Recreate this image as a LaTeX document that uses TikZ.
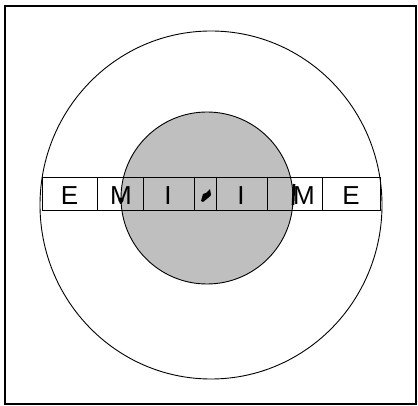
\documentclass[tikz,border=0pt]{standalone}
\usepackage{fontspec}
\setmainfont{Liberation Sans}
\usetikzlibrary{positioning}
\tikzset{
  frame/.style={draw=black,line width=1.6pt},
  ring/.style={draw=black,line width=0.9pt},
  core/.style={ring,fill=gray!50},
  strip/.style={draw=black,line width=1pt},
  cell/.style={font=\fontsize{26}{26}\selectfont,inner sep=0pt},
  blob/.style={fill=black,draw=none},
}

\begin{document}
\begin{tikzpicture}[x=1pt,y=-1pt]
  \useasboundingbox (0,0) rectangle (418,406);
  \draw[frame] (5,6) rectangle (416,404);

  % rings
  \draw[ring] (211,205) ellipse [x radius=171,y radius=174];
  \draw[core] (207,198) circle [radius=86];

  % the strip of cells
  \draw[strip] (42,178) rectangle (380,211);
  \foreach \x in {97,143,194,216,267,322}
    \draw[strip] (\x,178) -- (\x,211);

  \node[cell] (e1) at (69.5,196) {E};
  \node[cell] (m1) at (121,196) {M};
  \node[cell] (i1) at (168,196) {I};
  \node[cell] (i2) at (241,196) {I};
  \node[cell] (m2) at (304,196) {M};
  \node[cell] (e2) at (351,196) {E};

  % marks
  \fill[blob] (121,200) circle [radius=2.6];
  \draw[line width=2.6pt] (294,184) -- (293,205);
  \fill[blob] (201,201) -- (203,194) -- (206,193) -- (210,189) -- (211,195)
    -- (208,198) -- (203,202) -- cycle;
\end{tikzpicture}
\end{document}
